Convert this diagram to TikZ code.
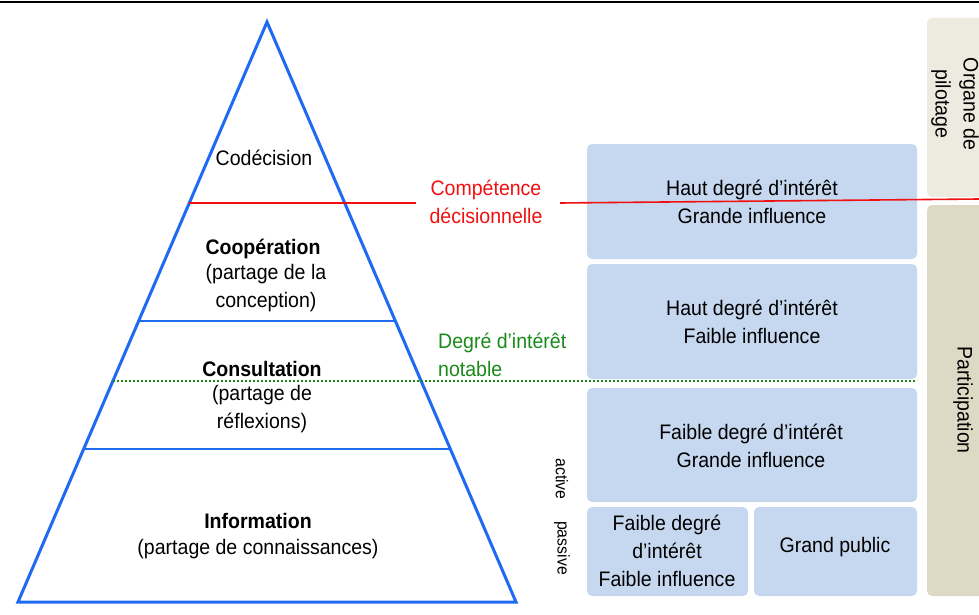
\documentclass[tikz,border=0pt]{standalone}
\usepackage{fontspec}
\setmainfont[FakeStretch=0.93]{Liberation Sans}
\definecolor{pyr}{HTML}{1E6AF2}
\definecolor{boxbl}{HTML}{C6D8EF}
\definecolor{beigeA}{HTML}{EDEAE0}
\definecolor{beigeB}{HTML}{DDD9C4}
\definecolor{redl}{HTML}{F01010}
\definecolor{greenl}{HTML}{1A8A1A}
\tikzset{
  txt/.style={font=\fontsize{21}{28}\selectfont, align=center, inner sep=0pt},
  boldtxt/.style={txt, font=\fontsize{21}{28}\selectfont\bfseries},
  bluebox/.style={fill=boxbl, rounded corners=5pt, draw=none},
  pyrline/.style={draw=pyr, line width=3pt, line join=miter},
}
\begin{document}
\begin{tikzpicture}[x=1pt,y=-1pt]
\useasboundingbox (0,0) rectangle (979,615);
% top rule
\draw[line width=1.5pt] (0,2) -- (979,2);
% side boxes
\fill[beigeA, rounded corners=5pt] (927,18) rectangle (985,197);
\fill[beigeB, rounded corners=5pt] (927,205) rectangle (985,596);
\node[txt, rotate=-90] (organe) at (955,104) {Organe de\\pilotage};
\node[txt, rotate=-90] (particip) at (963,400) {Participation};
% blue boxes
\fill[bluebox] (587,144) rectangle (917,259);
\fill[bluebox] (587,264) rectangle (917,379);
\fill[bluebox] (587,388) rectangle (917,502);
\fill[bluebox] (587,507) rectangle (748,596);
\fill[bluebox] (754,507) rectangle (917,596);
\node[txt] (b1) at (752,202) {Haut degré d’intérêt\\Grande influence};
\node[txt] (b2) at (752,322) {Haut degré d’intérêt\\Faible influence};
\node[txt] (b3) at (751,446) {Faible degré d’intérêt\\Grande influence};
\node[txt] (b4) at (667,551) {Faible degré\\d’intérêt\\Faible influence};
\node[txt] (b5) at (835,547) {Grand public};
\node[txt, rotate=-90, font=\fontsize{17}{18}\selectfont] (act) at (562,479) {active};
\node[txt, rotate=-90, font=\fontsize{17}{18}\selectfont] (pas) at (562,548) {passive};
% pyramid
\coordinate (apex) at (267,22);
\coordinate (bl) at (18,602);
\coordinate (br) at (516,602);
\coordinate (r1l) at (189.3,203);
\coordinate (r1r) at (416,203);
\coordinate (r2l) at (560,203);
\coordinate (r2r) at (979,199);
\coordinate (c1l) at (138.6,321);
\coordinate (c1r) at (395.4,321);
\coordinate (c2l) at (83.7,449);
\coordinate (c2r) at (450.3,449);
\coordinate (gl) at (113,381);
\coordinate (gr) at (917,381);
\draw[pyrline] (apex) -- (bl) -- (br) -- cycle;
\draw[pyrline, line width=2.5pt] (c1l) -- (c1r);
\draw[pyrline, line width=2.5pt] (c2l) -- (c2r);
\draw[redl, line width=1.6pt] (r1l) -- (r1r);
\draw[redl, line width=1.6pt] (r2l) -- (r2r);
\draw[greenl, line width=2pt, dash pattern=on 2pt off 2pt] (gl) -- (gr);
% pyramid labels
\node[txt] (codec) at (264,158) {Codécision};
\node[boldtxt] (coop) at (263,249) {Coopération};
\node[txt] (coop2) at (266,288.5) {(partage de la\\conception)};
\node[boldtxt] (cons) at (262,369) {Consultation};
\node[txt] (cons2) at (262,409.5) {(partage de\\réflexions)};
\node[boldtxt] (inf) at (258,521) {Information};
\node[txt] (inf2) at (258,549) {(partage de connaissances)};
% side labels
\node[txt, text=redl] (comp) at (486,202) {Compétence\\décisionnelle};
\node[txt, text=greenl, align=left, anchor=west] (deg) at (438,354.5) {Degré d’intérêt\\notable};
\end{tikzpicture}
\end{document}
